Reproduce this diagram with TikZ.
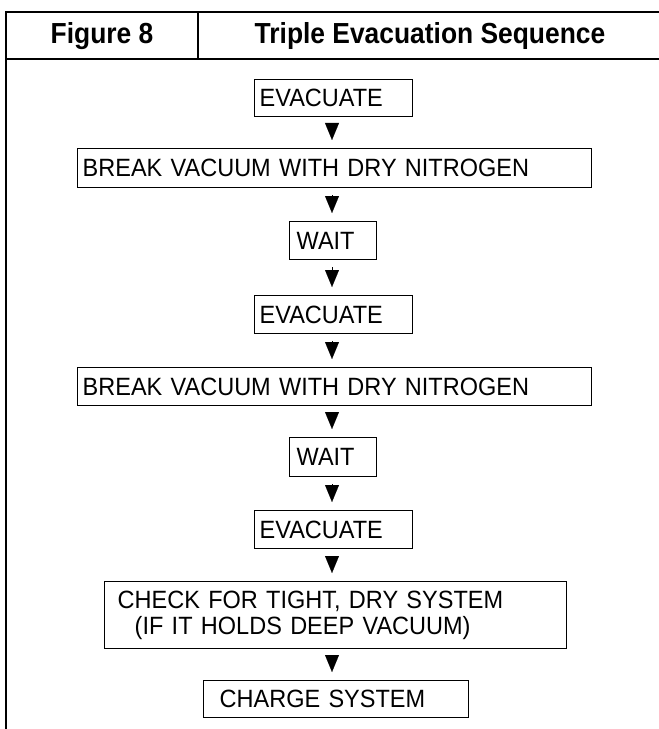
\documentclass[tikz,border=0pt]{standalone}
\usepackage{fontspec}
\setmainfont{Liberation Sans}
\newfontfamily\boxfont{Liberation Sans}[FakeStretch=0.94]
\newfontfamily\hdrfont{Liberation Sans Bold}[FakeStretch=0.91]
\usetikzlibrary{arrows.meta,calc}
\begin{document}
\begin{tikzpicture}[x=1bp,y=-1bp,
  frame/.style={line width=2.6bp},
  stepbox/.style={draw,line width=1.4bp,anchor=north west,inner ysep=0pt,inner xsep=#1,align=left,
     font=\boxfont\fontsize{25bp}{26.5bp}\selectfont},
  stepbox/.default=5bp,
  hdr/.style={font=\hdrfont\fontsize{29bp}{30bp}\selectfont},
  flow/.style={-{Triangle[width=14bp,length=17bp]},line width=0.1bp,shorten <=7bp,shorten >=8bp}]
\useasboundingbox (0,0) rectangle (659,729);
% frame
\draw[frame] (6,729) -- (6,12) -- (659,12);
\draw[frame] (6,59) -- (659,59);
\draw[frame] (198,12) -- (198,59);
\node[hdr] (fig) at (102,36) {Figure 8};
\node[hdr] (title) at (430,36) {Triple Evacuation Sequence};
% boxes
\node[stepbox, minimum width=158bp, minimum height=37bp, text width=148bp] (e1) at (254,79) {EVACUATE};
\node[stepbox, minimum width=514bp, minimum height=39bp, text width=504bp] (b1) at (77,148) {BREAK VACUUM WITH DRY NITROGEN};
\node[stepbox=7bp, minimum width=87bp, minimum height=38bp, text width=73bp] (w1) at (289,221) {WAIT};
\node[stepbox, minimum width=158bp, minimum height=38bp, text width=148bp] (e2) at (254,295) {EVACUATE};
\node[stepbox, minimum width=514bp, minimum height=38bp, text width=504bp] (b2) at (77,367) {BREAK VACUUM WITH DRY NITROGEN};
\node[stepbox=7bp, minimum width=87bp, minimum height=39bp, text width=73bp] (w2) at (289,437) {WAIT};
\node[stepbox, minimum width=158bp, minimum height=38bp, text width=148bp] (e3) at (254,510) {EVACUATE};
\node[stepbox=13bp, minimum width=462bp, minimum height=67bp, text width=436bp] (c) at (104,581) {CHECK FOR TIGHT, DRY SYSTEM\\\hspace*{17bp}(IF IT HOLDS DEEP VACUUM)};
\node[stepbox=16bp, minimum width=265bp, minimum height=37bp, text width=233bp] (g) at (203,680) {CHARGE SYSTEM};
% arrows
\coordinate (ax) at (332,0);
\foreach \a/\b in {e1/b1,b1/w1,w1/e2,e2/b2,b2/w2,w2/e3,e3/c,c/g}
  \draw[flow] (\a.south -| ax) -- (\b.north -| ax);
\end{tikzpicture}
\end{document}
